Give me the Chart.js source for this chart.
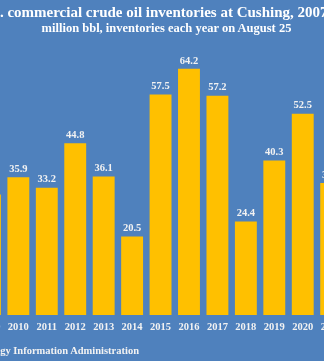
<!DOCTYPE html>
<html lang="en">
<head>
  <meta charset="UTF-8">
  <title>Cushing crude oil inventories</title>
  <script src="https://cdn.jsdelivr.net/npm/chart.js"></script>
  <style>
    html, body { margin: 0; padding: 0; }
    body { width: 324px; height: 361px; overflow: hidden; position: relative; background: #4F81BD; }
    #wrap { position: absolute; left: -60px; top: 0; width: 453px; height: 361px; }
    .txt { position: absolute; white-space: nowrap; font-family: "Liberation Serif", serif; font-weight: bold; color: #fff; }
    #titulo { left: -23px; top: 3px; font-size: 15px; line-height: 18px; }
    #subtitulo { left: 0; width: 333px; top: 20.5px; text-align: center; font-size: 12.5px; line-height: 15px; }
    #fuente { right: 185px; top: 345px; font-size: 10.5px; color: #f2f2f2; }
  </style>
</head>
<body>
<div id="wrap">
  <canvas id="grafico"></canvas>
</div>
<div class="txt" id="titulo">U.S. commercial crude oil inventories at Cushing, 2007-2021</div>
<div class="txt" id="subtitulo">million bbl, inventories each year on August 25</div>
<div class="txt" id="fuente">Source: U.S. Energy Information Administration</div>

<script>
  // dados (milhoes de barris, 25 de agosto de cada ano)
  const anos = ['2009', '2010', '2011', '2012', '2013', '2014', '2015', '2016', '2017', '2018', '2019', '2020', '2021'];
  const estoques = [31.4, 35.9, 33.2, 44.8, 36.1, 20.5, 57.5, 64.2, 57.2, 24.4, 40.3, 52.5, 34.4];

  // rotulos em cima das barras
  const rotulos = {
    id: 'rotulos',
    afterDatasetsDraw(chart) {
      const ctx = chart.ctx;
      const meta = chart.getDatasetMeta(0);
      ctx.save();
      ctx.fillStyle = '#f2f2f2';
      ctx.font = 'bold 10.5px "Liberation Serif", serif';
      ctx.textAlign = 'center';
      ctx.textBaseline = 'middle';
      meta.data.forEach((bar, i) => {
        ctx.fillText(estoques[i].toFixed(1), bar.x, bar.y - 8);
      });
      ctx.restore();
    }
  };

  const config = {
    type: 'bar',
    data: {
      labels: anos,
      datasets: [{
        data: estoques,
        backgroundColor: '#FFC000',
        borderWidth: 0,
        barPercentage: 0.77,
        categoryPercentage: 1
      }]
    },
    options: {
      responsive: true,
      maintainAspectRatio: false,
      animation: false,
      layout: { padding: { left: 35.7, right: 47.6, top: 46.6, bottom: 21.4 } },
      plugins: {
        legend: { display: false },
        tooltip: { enabled: false }
      },
      scales: {
        x: {
          grid: { display: false, drawTicks: false },
          border: { display: false },
          ticks: {
            color: '#f2f2f2',
            padding: 6,
            font: { family: '"Liberation Serif", serif', size: 10.5, weight: 'bold' }
          }
        },
        y: {
          display: false,
          min: 0,
          max: 70
        }
      }
    },
    plugins: [rotulos]
  };

  new Chart(document.getElementById('grafico'), config);
</script>
</body>
</html>
